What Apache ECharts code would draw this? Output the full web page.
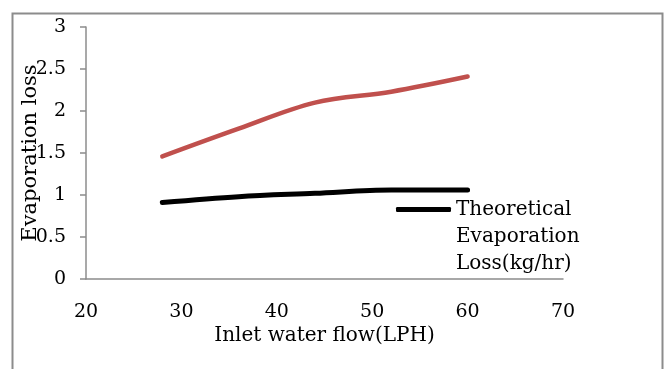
<!DOCTYPE html>
<html>
<head>
<meta charset="utf-8">
<script src="https://cdn.jsdelivr.net/npm/echarts@6/dist/echarts.min.js"></script>
<style>
    html, body { margin: 0; padding: 0; background: #fff; }
    #chart { width: 667px; height: 369px; }
</style>
</head>
<body>
<div id="chart"></div>
<script>
    // values
    var flowLph = [28, 36, 44, 52, 60];
    var measuredLoss = [1.46, 1.79, 2.10, 2.23, 2.41];
    var theoreticalLoss = [0.91, 0.98, 1.02, 1.06, 1.06];
    var xTicks = [20, 70, 10];
    var yTicks = [0, 3, 0.5];

    function pairs(xs, ys) {
        return xs.map(function(x, i) { return [x, ys[i]]; });
    }

    var font = 'DejaVu Serif';
    var chart = echarts.init(document.getElementById('chart'));

    var option = {
        animation: false,
        backgroundColor: '#fff',
        grid: { left: 86, right: 104, top: 27, bottom: 90, containLabel: false, outerBoundsMode: 'none' },
        graphic: [{
            type: 'rect',
            shape: { x: 12.5, y: 13.5, width: 650, height: 400 },
            style: { fill: 'none', stroke: '#8c8c8c', lineWidth: 2 },
            silent: true
        }],
        legend: {
            data: ['Theoretical Evaporation Loss(kg/hr)'],
            left: 391,
            top: 137,
            icon: 'roundRect',
            itemWidth: 55,
            itemHeight: 5,
            // two blank lines on top so the icon sits beside the first line
            formatter: function() { return ' \n \nTheoretical\nEvaporation\nLoss(kg/hr)'; },
            textStyle: {
                fontFamily: font, fontSize: 20, color: '#000', lineHeight: 27
            }
        },
        xAxis: {
            type: 'value',
            min: xTicks[0], max: xTicks[1], interval: xTicks[2],
            name: 'Inlet water flow(LPH)',
            nameLocation: 'middle',
            nameGap: 47,
            nameMoveOverlap: false,
            nameTextStyle: { fontFamily: font, fontSize: 20, color: '#000' },
            axisLine: { lineStyle: { color: '#8c8c8c', width: 1.5 } },
            axisTick: { show: false },
            splitLine: { show: false },
            axisLabel: { fontFamily: font, fontSize: 19, color: '#000', margin: 24 }
        },
        yAxis: {
            type: 'value',
            min: yTicks[0], max: yTicks[1], interval: yTicks[2],
            name: 'Evaporation loss',
            nameLocation: 'middle',
            nameRotate: 90,
            nameGap: 45,
            nameMoveOverlap: false,
            nameTextStyle: { fontFamily: font, fontSize: 21, color: '#000' },
            axisLine: { show: true, lineStyle: { color: '#8c8c8c', width: 1.5 } },
            axisTick: { show: true, length: 6, lineStyle: { color: '#8c8c8c', width: 1.5 } },
            splitLine: { show: false },
            axisLabel: { fontFamily: font, fontSize: 19, color: '#000', margin: 20 }
        },
        series: [{
            name: 'Evaporation Loss(kg/hr)',
            type: 'line',
            smooth: 0.35,
            showSymbol: false,
            data: pairs(flowLph, measuredLoss),
            lineStyle: { color: '#c0504d', width: 4.5, cap: 'round' },
            itemStyle: { color: '#c0504d' }
        }, {
            name: 'Theoretical Evaporation Loss(kg/hr)',
            type: 'line',
            smooth: 0.35,
            showSymbol: false,
            data: pairs(flowLph, theoreticalLoss),
            lineStyle: { color: '#000', width: 5, cap: 'round' },
            itemStyle: { color: '#000' }
        }]
    };

    chart.setOption(option);
</script>
</body>
</html>
